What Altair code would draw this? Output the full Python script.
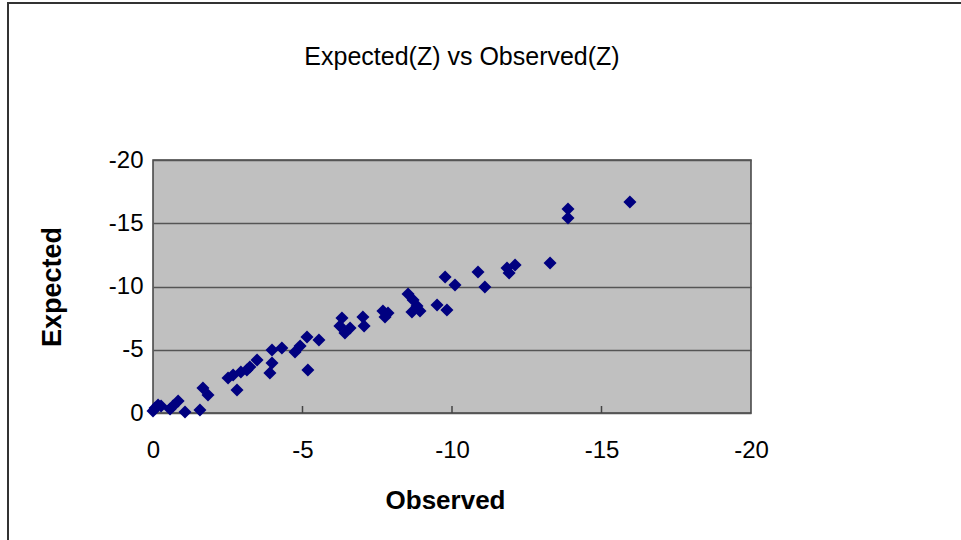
import altair as alt
import pandas as pd

# Observed vs expected Z values
observed = [
    0.00, -0.07, -0.17, -0.27, -0.57, -0.67, -0.84, -1.07, -1.57, -1.67,
    -1.84, -2.51, -2.68, -2.81, -2.94, -3.14, -3.48, -3.24, -3.91, -3.98,
    -3.98, -4.31, -4.75, -4.92, -5.15, -5.55, -5.18, -6.32, -6.25, -6.42,
    -6.59, -7.02, -7.06, -7.69, -7.76, -7.86, -8.53, -8.70, -8.83, -8.66,
    -8.93, -9.50, -9.83, -9.77, -10.10, -10.87, -11.10, -11.84, -11.91, -12.11,
    -13.28, -13.88, -13.88, -15.95,
]
expected = [
    -0.16, -0.40, -0.63, -0.55, -0.32, -0.55, -0.95, -0.08, -0.24, -1.98,
    -1.42, -2.77, -3.00, -1.82, -3.24, -3.40, -4.19, -3.64, -3.16, -3.95,
    -4.98, -5.14, -4.82, -5.30, -6.01, -5.77, -3.40, -7.51, -6.88, -6.32,
    -6.72, -7.59, -6.88, -8.06, -7.59, -7.90, -9.41, -8.93, -8.46, -7.98,
    -8.06, -8.54, -8.14, -10.75, -10.12, -11.15, -9.96, -11.46, -11.07, -11.70,
    -11.86, -16.13, -15.42, -16.68,
]
tick_values = [0, -5, -10, -15, -20]

W, H = 598, 253
FONT = "Liberation Sans"

df = pd.DataFrame({"Observed": observed, "Expected": expected})
ticks_df = pd.DataFrame({"t": tick_values[1:-1]})

x_scale = alt.Scale(domain=[-20, 0], reverse=True, nice=False, zero=False)
y_scale = alt.Scale(domain=[-20, 0], reverse=True, nice=False, zero=False)

points = alt.Chart(df).mark_point(
    shape="diamond", filled=True, size=170, color="#000080", opacity=1
).encode(
    x=alt.X("Observed:Q", scale=x_scale,
            axis=alt.Axis(values=tick_values, grid=False, ticks=False, tickSize=0,
                          domain=False, labelExpr="'' + datum.value",
                          labelFlush=False, labelOverlap=False,
                          labelPadding=25, labelFontSize=24, labelFont=FONT,
                          labelColor="black", title="Observed",
                          titleFont=FONT, titleFontSize=26, titleFontWeight="bold",
                          titleColor="black", titleX=292, titleY=95,
                          titleBaseline="alphabetic", titleAlign="center")),
    y=alt.Y("Expected:Q", scale=y_scale,
            axis=alt.Axis(values=tick_values, grid=True, gridColor="#555555",
                          gridWidth=1.5, ticks=False, tickSize=0, domain=False,
                          labelExpr="'' + datum.value", labelPadding=10,
                          labelFlush=False, labelOverlap=False,
                          labelFontSize=24, labelFont=FONT, labelColor="black",
                          title="Expected", titleFont=FONT, titleFontSize=27,
                          titleFontWeight="bold", titleColor="black",
                          titleX=-93, titleY=H / 2, titleAngle=-90,
                          titleBaseline="alphabetic", titleAlign="center")),
)

# short inward tick marks along the bottom of the plot area
x_ticks = alt.Chart(ticks_df).mark_rule(color="#444444", strokeWidth=1.5).encode(
    x=alt.X("t:Q", scale=x_scale),
    y=alt.value(H - 7),
    y2=alt.value(H),
)

# outer chart frame
frame = alt.Chart(ticks_df).mark_rect(
    fill=None, stroke="#333333", strokeWidth=2
).encode(
    x=alt.value(-145), x2=alt.value(W + 400),
    y=alt.value(-157), y2=alt.value(H + 300),
)

chart = alt.layer(frame, x_ticks, points).properties(
    width=W,
    height=H,
    title=alt.TitleParams(
        "Expected(Z) vs Observed(Z)", font=FONT, fontSize=25, fontWeight="normal",
        color="black", anchor="middle", dx=10, offset=-88, baseline="alphabetic",
    ),
    autosize=alt.AutoSizeParams(type="none"),
    padding={"left": 153, "top": 160, "right": 961 - 153 - W, "bottom": 540 - 160 - H},
    background="white",
).configure_view(
    fill="#C0C0C0", stroke="#404040", strokeWidth=1.5
)

chart.save("out.html", embed_options={"renderer": "svg", "actions": False})
